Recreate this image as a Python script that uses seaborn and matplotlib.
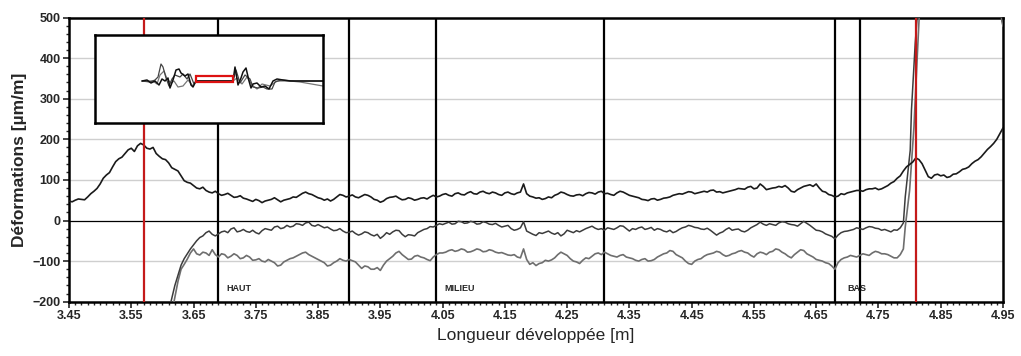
import numpy as np
import pandas as pd
import matplotlib
matplotlib.use("Agg")
import matplotlib.pyplot as plt
from matplotlib.patches import Rectangle
from matplotlib.ticker import MultipleLocator, FixedLocator
import seaborn as sns

sns.set_style("white")
plt.rcParams['font.family'] = ['Liberation Sans', 'DejaVu Sans']

# ---------------- data ----------------
# Series 1 (upper curve): readings every 0.01 m from 3.45 (y1) and
# the readings halfway between them (y1_mid)
y1 = [48, 50, 52, 58, 72, 90, 112, 132, 152, 165,
      178, 184, 186, 176, 165, 152, 142, 126, 110, 94,
      86, 78, 74, 68, 66, 64, 62, 58, 55, 50,
      52, 44, 50, 56, 46, 52, 58, 62, 70, 64,
      56, 50, 48, 58, 62, 60, 58, 60, 62, 52,
      45, 54, 58, 55, 52, 54, 52, 56, 58, 58,
      64, 62, 66, 64, 68, 66, 70, 68, 70, 64,
      68, 66, 68, 90, 60, 55, 52, 58, 62, 70,
      64, 60, 64, 66, 68, 70, 66, 64, 68, 70,
      62, 58, 52, 49, 54, 52, 56, 62, 66, 68,
      70, 68, 72, 74, 70, 68, 72, 76, 78, 82,
      78, 90, 76, 80, 84, 86, 72, 76, 84, 88,
      90, 72, 64, 58, 66, 68, 72, 74, 76, 78,
      76, 82, 92, 104, 122, 138, 154, 140, 108, 112,
      110, 106, 114, 120, 128, 140, 150, 166, 182, 200,
      228]
y1_mid = [46, 53, 51, 66, 79, 104, 118, 145, 156, 174,
          170, 190, 178, 180, 158, 150, 130, 122, 98, 92,
          80, 82, 70, 72, 62, 67, 57, 61, 53, 47,
          49, 48, 52, 51, 50, 54, 57, 67, 66, 60,
          54, 53, 52, 64, 58, 63, 56, 64, 58, 50,
          48, 57, 60, 51, 56, 50, 55, 53, 62, 60,
          66, 60, 68, 63, 71, 65, 72, 66, 68, 62,
          70, 64, 70, 66, 58, 56, 54, 56, 65, 68,
          61, 63, 61, 69, 65, 72, 67, 62, 72, 66,
          60, 56, 51, 53, 50, 55, 58, 64, 65, 71,
          66, 70, 70, 75, 71, 70, 74, 79, 77, 84,
          80, 84, 78, 81, 82, 80, 70, 80, 86, 84,
          80, 70, 62, 60, 64, 70, 74, 72, 78, 80,
          78, 86, 96, 110, 132, 144, 150, 124, 104, 114,
          112, 108, 115, 126, 132, 146, 157, 175, 190, 214]

# Series 2 (middle curve): start, readings every 0.01 m from 3.62 to 4.79,
# halfway readings, and the steep rise at the right
x2_head = [3.613]
y2_head = [-205]
y2 = [-160, -110, -82, -60, -42, -30, -34, -33, -26,
      -21, -28, -22, -29, -30, -25, -22, -16, -20, -12,
      -14, -9, -6, -12, -10, -18, -21, -24, -26, -29,
      -32, -33, -30, -38, -44, -30, -28, -25, -40, -36,
      -30, -22, -15, -12, -10, -4, -8, -3, -6, -4,
      -8, -5, -10, -12, -14, -20, -22, -3, -30, -37,
      -32, -26, -34, -38, -24, -30, -28, -20, -14, -22,
      -24, -20, -18, -14, -26, -22, -16, -20, -24, -22,
      -28, -30, -22, -16, -14, -18, -22, -24, -36, -28,
      -18, -22, -26, -24, -14, -4, -12, -10, -6, -4,
      -10, -14, -2, -12, -24, -28, -36, -45, -30, -26,
      -22, -20, -18, -16, -20, -22, -28, -24, -6]
y2_mid = [-135, -94, -70, -50, -38, -26, -38, -28, -30,
          -18, -26, -27, -24, -33, -20, -24, -14, -18, -16,
          -8, -12, -4, -14, -14, -16, -25, -20, -30, -26,
          -36, -28, -35, -34, -38, -34, -24, -34, -35, -38,
          -26, -20, -16, -8, -7, -9, -2, -7, -2, -9,
          -3, -9, -7, -16, -12, -24, -18, -26, -34, -30,
          -29, -31, -30, -33, -27, -25, -24, -17, -19, -20,
          -18, -22, -13, -20, -20, -18, -22, -17, -20, -26,
          -24, -27, -18, -12, -17, -21, -19, -30, -31, -22,
          -24, -21, -28, -18, -10, -9, -8, -12, -3, -8,
          -11, -8, -7, -18, -25, -33, -39, -36, -27, -24,
          -18, -22, -15, -19, -24, -25, -23, -18]
x2_tail = [4.793, 4.801, 4.803, 4.809, 4.813]
y2_tail = [58, 173, 272, 436, 520]

# Series 3 (lower curve)
x3_head = [3.618, 3.625]
y3_head = [-205, -150]
y3 = [-120, -95, -70, -85, -80, -72, -90, -84, -88,
      -86, -92, -90, -97, -100, -96, -104, -110, -98, -92,
      -84, -78, -88, -96, -104, -110, -100, -98, -96, -102,
      -118, -114, -120, -123, -100, -88, -76, -90, -95, -86,
      -92, -99, -84, -80, -74, -76, -70, -78, -74, -72,
      -76, -74, -80, -82, -86, -90, -70, -108, -111, -104,
      -100, -92, -78, -86, -100, -106, -92, -88, -80, -78,
      -86, -90, -84, -92, -98, -96, -100, -96, -86, -80,
      -76, -88, -100, -108, -96, -88, -82, -76, -84, -86,
      -80, -74, -80, -90, -78, -84, -76, -72, -82, -92,
      -78, -74, -86, -96, -100, -106, -120, -96, -90, -88,
      -86, -84, -80, -78, -82, -88, -92, -70]
y3_mid = [-108, -80, -82, -78, -86, -84, -82, -92, -82,
          -94, -86, -98, -94, -102, -100, -112, -102, -94, -88,
          -80, -84, -92, -100, -112, -104, -94, -100, -99, -110,
          -112, -120, -116, -110, -94, -80, -84, -96, -88, -90,
          -96, -90, -80, -78, -72, -74, -72, -77, -70, -77,
          -72, -78, -79, -85, -84, -92, -96, -104, -106, -98,
          -97, -84, -82, -94, -102, -98, -94, -82, -84, -82,
          -88, -86, -90, -94, -100, -94, -99, -90, -82, -74,
          -84, -92, -106, -100, -94, -84, -80, -78, -88, -82,
          -76, -78, -86, -82, -80, -78, -70, -78, -88, -84,
          -72, -82, -90, -98, -104, -112, -104, -92, -86, -90,
          -82, -86, -76, -82, -84, -92, -84]
x3_tail = [4.793, 4.800, 4.807, 4.812, 4.816]
y3_tail = [-16, 74, 230, 395, 520]

# Short trace coming back in at the top right corner
x4 = [4.946, 4.948, 4.950]
y4 = [520, 490, 478]

# Section markers
red_lines = [3.57, 4.81]
black_lines = [3.69, 3.90, 4.04, 4.31, 4.68, 4.72]
section_names = ["HAUT", "MILIEU", "BAS"]
section_x = [3.703, 4.053, 4.700]
section_y = -168

# Inset (overview) data, in inset units
ins_xa = [47, 52, 56, 60, 64, 67, 70, 73, 75, 78, 81, 84, 86, 90, 93, 96, 98, 101,
          138, 140, 143, 146, 148, 151, 154, 156, 158, 162, 166, 170, 174, 178, 182, 188, 195, 228]
ins_ya = [0, 1, -2, 0, -4, 2, 0, 3, -7, 1, 11, 12, 8, 5, 7, -4, -6, 0,
          0, 14, -4, 3, 9, 13, 0, -7, -3, -2, -6, -5, -8, 0, 2, 1, 0, 0]
ins_xb = [47, 55, 60, 63, 66, 68, 71, 74, 77, 80, 85, 88, 92, 95, 99, 101,
          138, 141, 145, 150, 155, 158, 163, 168, 172, 177, 180, 186, 200, 228]
ins_yb = [0, -1, 1, 4, 17, 14, 3, -5, 2, 6, 4, 7, 2, 7, -3, 0,
          0, 11, -2, 6, 2, -6, -7, -6, -8, -8, -1, 1, 0, 0]
ins_xc = [47, 58, 62, 65, 69, 72, 76, 79, 83, 88, 93, 98, 101,
          138, 142, 147, 152, 157, 162, 167, 175, 182, 195, 205, 228]
ins_yc = [0, 0, -3, 6, 10, 2, -2, 0, -6, -5, 1, -5, 0,
          0, 3, -3, 4, -4, -8, -3, -5, 0, 0, -1, -5]
ins_box_x = [101, 138]
ins_box_y = [-1, 5.4]


def interleave(grid_vals, mid_vals):
    out = []
    for i, v in enumerate(grid_vals):
        out.append(v)
        if i < len(mid_vals):
            out.append(mid_vals[i])
    return out


s1_y = interleave(y1, y1_mid)
s1_x = np.round(np.linspace(3.45, 4.95, len(s1_y)), 4)

s2_core = interleave(y2, y2_mid)
s2_x = x2_head + list(np.round(np.linspace(3.62, 4.79, len(s2_core)), 4)) + x2_tail
s2_y = y2_head + s2_core + y2_tail

s3_core = interleave(y3, y3_mid)
s3_x = x3_head + list(np.round(np.linspace(3.63, 4.79, len(s3_core)), 4)) + x3_tail
s3_y = y3_head + s3_core + y3_tail

# ---------------- figure ----------------
fig = plt.figure(figsize=(10.21, 3.56), dpi=100)
ax = fig.add_axes([69 / 1021, 54.3 / 356, 934 / 1021, 284.2 / 356])

for gy in [-100, 100, 200, 300, 400]:
    ax.axhline(gy, color="#cfcfcf", lw=1.0, zorder=0)
ax.axhline(0, color="black", lw=0.9, zorder=1)

for bx in black_lines:
    ax.axvline(bx, color="black", lw=1.6, zorder=2)
for rx in red_lines:
    ax.axvline(rx, color="#c41a1a", lw=1.6, zorder=4)

df1 = pd.DataFrame({"x": s1_x, "y": s1_y})
df2 = pd.DataFrame({"x": s2_x, "y": s2_y})
df3 = pd.DataFrame({"x": s3_x, "y": s3_y})
df4 = pd.DataFrame({"x": x4, "y": y4})
sns.lineplot(data=df3, x="x", y="y", ax=ax, color="#6e6e6e", lw=1.2, sort=False, estimator=None, zorder=3)
sns.lineplot(data=df2, x="x", y="y", ax=ax, color="#3c3c3c", lw=1.1, sort=False, estimator=None, zorder=3)
sns.lineplot(data=df1, x="x", y="y", ax=ax, color="#1a1a1a", lw=1.2, sort=False, estimator=None, zorder=3)
sns.lineplot(data=df4, x="x", y="y", ax=ax, color="#6e6e6e", lw=1.0, sort=False, estimator=None, zorder=3)

for name, sx in zip(section_names, section_x):
    ax.text(sx, section_y, name, fontsize=6.5, fontweight="bold", va="center", ha="left", zorder=5)

ax.set_xlim(3.45, 4.95)
ax.set_ylim(-200, 500)
major_x = np.round(np.arange(3.45, 4.951, 0.1), 2)
ax.xaxis.set_major_locator(FixedLocator(major_x))
ax.xaxis.set_minor_locator(FixedLocator(np.round(np.arange(3.45, 4.951, 0.01), 3)))
ax.yaxis.set_major_locator(MultipleLocator(100))
ax.yaxis.set_minor_locator(MultipleLocator(20))
ax.set_xticklabels([f"{v:.2f}" for v in major_x])
ax.tick_params(axis="both", which="major", direction="out", length=4, width=1.2,
               labelsize=9, pad=2, bottom=True, left=True)
ax.tick_params(axis="both", which="minor", direction="out", length=2.5, width=1.0,
               bottom=True, left=True)
for lab in ax.get_xticklabels() + ax.get_yticklabels():
    lab.set_fontweight("bold")
for sp in ax.spines.values():
    sp.set_linewidth(1.8)
    sp.set_color("black")

ax.set_xlabel("Longueur développée [m]", fontsize=12.5, labelpad=4)
ax.set_ylabel("Déformations [µm/m]", fontsize=12.5, fontweight="bold", labelpad=4)

# inset overview
ins = fig.add_axes([95 / 1021, (356 - 123) / 356, 228 / 1021, 88 / 356])
ins.set_facecolor("white")
ins.set_zorder(10)
dfa = pd.DataFrame({"x": ins_xa, "y": ins_ya})
dfb = pd.DataFrame({"x": ins_xb, "y": ins_yb})
dfc = pd.DataFrame({"x": ins_xc, "y": ins_yc})
sns.lineplot(data=dfc, x="x", y="y", ax=ins, color="#777777", lw=0.9, sort=False, estimator=None)
sns.lineplot(data=dfb, x="x", y="y", ax=ins, color="#444444", lw=0.9, sort=False, estimator=None)
sns.lineplot(data=dfa, x="x", y="y", ax=ins, color="#111111", lw=1.1, sort=False, estimator=None)
ins.add_patch(Rectangle((ins_box_x[0], ins_box_y[0]), ins_box_x[1] - ins_box_x[0],
                        ins_box_y[1] - ins_box_y[0], fill=False, edgecolor="#dd1111", lw=1.6, zorder=5))
ins.set_xlim(0, 228)
ins.set_ylim(-42, 46)
ins.set_xticks([])
ins.set_yticks([])
ins.set_xlabel("")
ins.set_ylabel("")
for sp in ins.spines.values():
    sp.set_linewidth(1.8)
    sp.set_color("black")

fig.savefig("out.png", dpi=100)
